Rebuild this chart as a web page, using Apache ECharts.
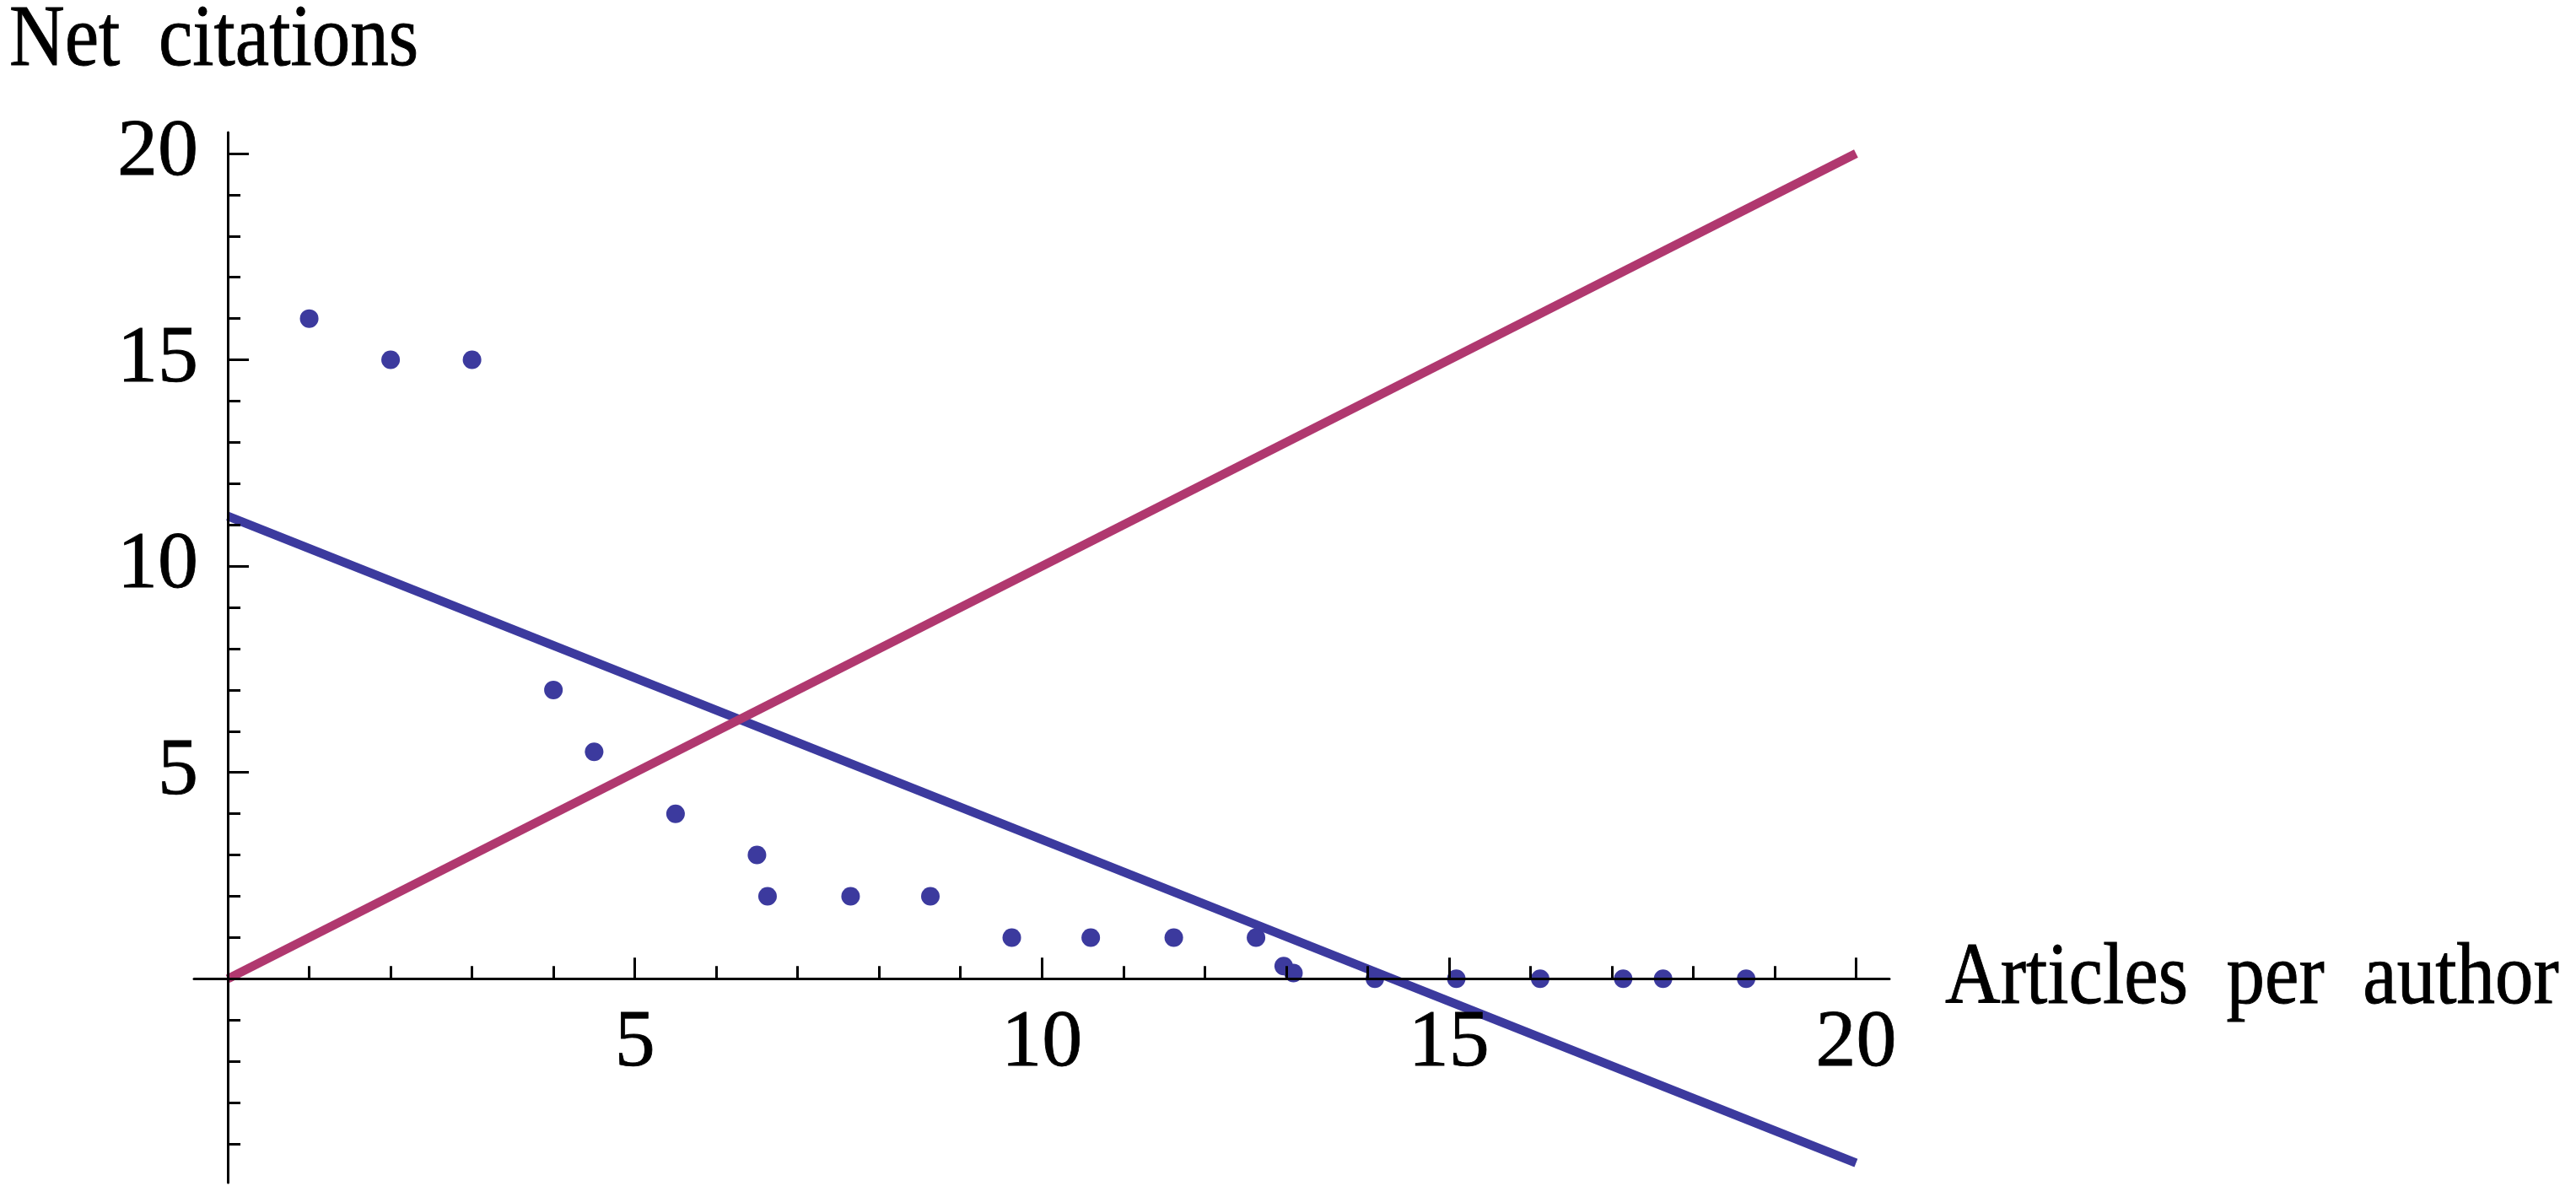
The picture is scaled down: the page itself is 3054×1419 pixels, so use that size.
<!DOCTYPE html>
<html>
<head>
<meta charset="utf-8">
<title>Net citations</title>
<script src="https://cdn.jsdelivr.net/npm/echarts@6/dist/echarts.min.js"></script>
<style>
  html, body { margin: 0; padding: 0; background: #fff; }
  #main { width: 3054px; height: 1419px; }
</style>
</head>
<body>
<div id="main"></div>
<script>
// points
let articles = [1, 2, 3, 4, 4.5, 5.5, 6.5, 6.63, 7.65, 8.63, 9.63, 10.6, 11.62, 12.63, 12.97, 13.09, 14.09, 15.09, 16.12, 17.14, 17.63, 18.65]
let citations = [16, 15, 15, 7, 5.5, 4, 3, 2, 2, 2, 1, 1, 1, 1, 0.31, 0.14, 0, 0, 0, 0, 0, 0]

// fitted line (blue) and y = x line (red), end points
let fitX = [0, 20]
let fitY = [11.21, -4.46]
let diagX = [0, 20]
let diagY = [0, 20]

// ticks
let xMajor = [5, 10, 15, 20]
let xMinor = [1, 2, 3, 4, 6, 7, 8, 9, 11, 12, 13, 14, 16, 17, 18, 19]
let yMajor = [5, 10, 15, 20]
let yMinor = [-4, -3, -2, -1, 1, 2, 3, 4, 6, 7, 8, 9, 11, 12, 13, 14, 16, 17, 18, 19]

// axis extents
let xRange = [-0.415, 20.41]
let yRange = [-4.94, 20.51]

const BLUE = '#3c3a9e'
const RED = '#b0386f'
const FONT = 'Liberation Serif'

const W = 3054, H = 1419
const grid = { left: 230, right: 814, top: 157, bottom: 17 }
const gw = W - grid.left - grid.right
const gh = H - grid.top - grid.bottom

// where the zero lines fall inside the grid (axes cross at the origin)
const zeroX = gw * (0 - xRange[0]) / (xRange[1] - xRange[0])
const zeroY = gh * (yRange[1] - 0) / (yRange[1] - yRange[0])

function pairs(xs, ys) {
  return xs.map((x, i) => [x, ys[i]])
}

// main axis: line, long ticks, labels
function majorAxis(range, pos, offset, ticks, margin) {
  return {
    type: 'value',
    min: range[0],
    max: range[1],
    position: pos,
    offset: offset,
    z: 10,
    axisLine: { onZero: false, lineStyle: { color: '#000', width: 3 } },
    axisTick: { inside: true, length: 25, customValues: ticks, lineStyle: { color: '#000', width: 3 } },
    axisLabel: {
      customValues: ticks, margin: margin, fontSize: 96, fontFamily: FONT, color: '#000',
      textBorderColor: '#000', textBorderWidth: 0.8
    },
    splitLine: { show: false }
  }
}

// second axis on the same place, only short ticks
function minorAxis(range, pos, offset, ticks) {
  return {
    type: 'value',
    min: range[0],
    max: range[1],
    position: pos,
    offset: offset,
    z: 10,
    axisLine: { show: false, onZero: false },
    axisTick: { inside: false, length: 15, customValues: ticks, lineStyle: { color: '#000', width: 3 } },
    axisLabel: { show: false },
    splitLine: { show: false }
  }
}

let chart = echarts.init(document.getElementById('main'))

let option = {
  backgroundColor: '#fff',
  animation: false,
  grid: {
    left: grid.left,
    right: grid.right,
    top: grid.top,
    bottom: grid.bottom,
    containLabel: false,
    outerBoundsMode: 'none'
  },
  xAxis: [
    majorAxis(xRange, 'bottom', -(gh - zeroY), xMajor, 29),
    minorAxis(xRange, 'top', -zeroY, xMinor)
  ],
  yAxis: [
    majorAxis(yRange, 'left', -zeroX, yMajor, 35),
    minorAxis(yRange, 'right', -(gw - zeroX), yMinor)
  ],
  graphic: [
    {
      type: 'text',
      x: 11,
      y: 50,
      scaleY: 1.15,
      style: {
        text: 'Net  citations', fontSize: 91, fontFamily: FONT, fill: '#000',
        stroke: '#000', lineWidth: 0.8, align: 'left', verticalAlign: 'middle'
      }
    },
    {
      type: 'text',
      x: 2306,
      y: 1162,
      scaleY: 1.15,
      style: {
        text: 'Articles  per  author', fontSize: 91, fontFamily: FONT, fill: '#000',
        stroke: '#000', lineWidth: 0.8, align: 'left', verticalAlign: 'middle'
      }
    }
  ],
  series: [
    {
      name: 'data',
      type: 'scatter',
      symbol: 'circle',
      symbolSize: 22,
      itemStyle: { color: BLUE, opacity: 1 },
      data: pairs(articles, citations)
    },
    {
      name: 'fit',
      type: 'line',
      showSymbol: false,
      lineStyle: { color: BLUE, width: 10.5 },
      data: pairs(fitX, fitY)
    },
    {
      name: 'diagonal',
      type: 'line',
      showSymbol: false,
      lineStyle: { color: RED, width: 10.5 },
      data: pairs(diagX, diagY)
    }
  ]
}

chart.setOption(option)
</script>
</body>
</html>
